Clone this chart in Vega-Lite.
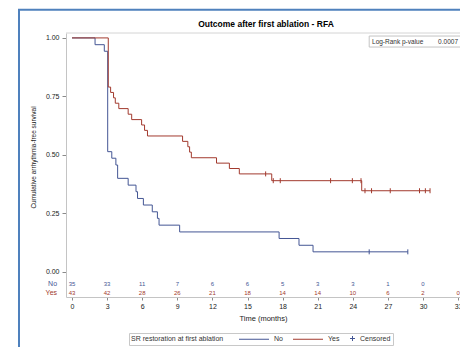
{
  "$schema": "https://vega.github.io/schema/vega-lite/v6.json",
  "autosize": "none",
  "width": 394,
  "height": 264,
  "padding": {"left": 66, "top": 33, "right": 0, "bottom": 50},
  "config": {
    "font": "Liberation Sans",
    "view": {"stroke": null},
    "axis": {"grid": false, "labelColor": "#222", "titleColor": "#222", "domainColor": "#c4c4c4", "tickColor": "#8a8a8a", "titleFontWeight": "normal"},
    "axisX": {"labelOverlap": false, "labelBound": false, "labelFlush": false, "labelFontSize": 7, "titleFontSize": 7.5, "tickSize": 3, "labelPadding": 2, "titlePadding": 5},
    "axisY": {"labelOverlap": false, "labelFontSize": 7, "titleFontSize": 6.5, "tickSize": 4, "labelPadding": 3, "titlePadding": 9}
  },
  "datasets": {
    "km": [
      {"g": "No", "t": 0, "s": 1},
      {"g": "No", "t": 1.97, "s": 0.971},
      {"g": "No", "t": 2.76, "s": 0.943},
      {"g": "No", "t": 3.05, "s": 0.514},
      {"g": "No", "t": 3.4, "s": 0.486},
      {"g": "No", "t": 3.75, "s": 0.457},
      {"g": "No", "t": 3.9, "s": 0.4},
      {"g": "No", "t": 4.8, "s": 0.371},
      {"g": "No", "t": 5.47, "s": 0.343},
      {"g": "No", "t": 5.6, "s": 0.314},
      {"g": "No", "t": 6.1, "s": 0.286},
      {"g": "No", "t": 6.86, "s": 0.257},
      {"g": "No", "t": 7.3, "s": 0.229},
      {"g": "No", "t": 7.44, "s": 0.2},
      {"g": "No", "t": 9.2, "s": 0.171},
      {"g": "No", "t": 17.7, "s": 0.143},
      {"g": "No", "t": 19.4, "s": 0.114},
      {"g": "No", "t": 20.6, "s": 0.086},
      {"g": "No", "t": 28.7, "s": 0.086},
      {"g": "Yes", "t": 0, "s": 1},
      {"g": "Yes", "t": 3.1, "s": 0.79},
      {"g": "Yes", "t": 3.3, "s": 0.767},
      {"g": "Yes", "t": 3.55, "s": 0.744},
      {"g": "Yes", "t": 3.7, "s": 0.721},
      {"g": "Yes", "t": 4.0, "s": 0.698},
      {"g": "Yes", "t": 4.8, "s": 0.674},
      {"g": "Yes", "t": 5.1, "s": 0.651},
      {"g": "Yes", "t": 5.95, "s": 0.628},
      {"g": "Yes", "t": 6.2, "s": 0.605},
      {"g": "Yes", "t": 6.45, "s": 0.581},
      {"g": "Yes", "t": 9.45, "s": 0.558},
      {"g": "Yes", "t": 9.9, "s": 0.535},
      {"g": "Yes", "t": 10.05, "s": 0.512},
      {"g": "Yes", "t": 10.2, "s": 0.488},
      {"g": "Yes", "t": 12.35, "s": 0.465},
      {"g": "Yes", "t": 13.45, "s": 0.442},
      {"g": "Yes", "t": 14.3, "s": 0.419},
      {"g": "Yes", "t": 17.07, "s": 0.39},
      {"g": "Yes", "t": 24.76, "s": 0.347},
      {"g": "Yes", "t": 30.6, "s": 0.347}
    ],
    "cens": [
      {"g": "Yes", "t": 16.55, "s": 0.419},
      {"g": "Yes", "t": 17.2, "s": 0.39},
      {"g": "Yes", "t": 17.8, "s": 0.39},
      {"g": "Yes", "t": 22.1, "s": 0.39},
      {"g": "Yes", "t": 23.96, "s": 0.39},
      {"g": "Yes", "t": 24.7, "s": 0.39},
      {"g": "Yes", "t": 25.04, "s": 0.347},
      {"g": "Yes", "t": 25.6, "s": 0.347},
      {"g": "Yes", "t": 27.2, "s": 0.347},
      {"g": "Yes", "t": 29.7, "s": 0.347},
      {"g": "Yes", "t": 30.2, "s": 0.347},
      {"g": "Yes", "t": 30.6, "s": 0.347},
      {"g": "No", "t": 25.4, "s": 0.086},
      {"g": "No", "t": 28.7, "s": 0.086}
    ],
    "risk": [
      {"g": "No", "t": 0, "n": 35},
      {"g": "No", "t": 3, "n": 33},
      {"g": "No", "t": 6, "n": 11},
      {"g": "No", "t": 9, "n": 7},
      {"g": "No", "t": 12, "n": 6},
      {"g": "No", "t": 15, "n": 6},
      {"g": "No", "t": 18, "n": 5},
      {"g": "No", "t": 21, "n": 3},
      {"g": "No", "t": 24, "n": 3},
      {"g": "No", "t": 27, "n": 1},
      {"g": "No", "t": 30, "n": 0},
      {"g": "Yes", "t": 0, "n": 43},
      {"g": "Yes", "t": 3, "n": 42},
      {"g": "Yes", "t": 6, "n": 28},
      {"g": "Yes", "t": 9, "n": 26},
      {"g": "Yes", "t": 12, "n": 21},
      {"g": "Yes", "t": 15, "n": 18},
      {"g": "Yes", "t": 18, "n": 14},
      {"g": "Yes", "t": 21, "n": 14},
      {"g": "Yes", "t": 24, "n": 10},
      {"g": "Yes", "t": 27, "n": 6},
      {"g": "Yes", "t": 30, "n": 2},
      {"g": "Yes", "t": 33, "n": 0}
    ],
    "labels": [{"g": "No"}, {"g": "Yes"}],
    "lr": [{"label": "Log-Rank p-value", "p": "0.0007"}],
    "ttl": [{"text": "Outcome after first ablation - RFA"}],
    "one": [{}]
  },
  "layer": [
    {
      "data": {"name": "km"},
      "mark": {"type": "line", "interpolate": "step-after", "strokeWidth": 1},
      "encoding": {
        "x": {"field": "t", "type": "quantitative", "scale": {"domain": [-0.513, 33.16], "nice": false, "zero": false},
          "axis": {"values": [0, 3, 6, 9, 12, 15, 18, 21, 24, 27, 30, 33], "title": "Time (months)"}},
        "y": {"field": "s", "type": "quantitative", "scale": {"domain": [-0.107, 1.021], "nice": false, "zero": false},
          "axis": {"values": [0, 0.25, 0.5, 0.75, 1], "format": ".2f", "title": "Cumulative arrhythmia-free survival", "titleY": 124}},
        "color": {"field": "g", "type": "nominal",
          "scale": {"domain": ["No", "Yes", "Censored"], "range": ["#445694", "#a23a2e", "#445694"]},
          "legend": {
            "title": "SR restoration at first ablation",
            "orient": "none", "legendX": 63, "legendY": 300,
            "direction": "horizontal", "titleOrient": "left",
            "titleFontSize": 7, "titleFontWeight": "normal", "titleColor": "#333", "titlePadding": 15,
            "labelFontSize": 7, "labelColor": "#333",
            "symbolType": "stroke", "symbolSize": 25, "symbolStrokeWidth": 1,
            "columnPadding": 8, "strokeColor": "#c8c8c8", "padding": 2,
            "encode": {
              "symbols": {"update": {
                "shape": {"signal": "datum.value === 'Censored' ? 'M-1,0H1M0,-1V1' : 'M-6,0H6'"},
                "x": {"signal": "datum.value === 'Censored' ? 2.5 : 15"}
              }},
              "labels": {"update": {
                "x": {"signal": "datum.value === 'Censored' ? 10 : 35"}
              }}
            }
          }}
      }
    },
    {
      "data": {"name": "one"},
      "mark": {"type": "rect", "fill": "transparent", "stroke": "#4f81bd", "strokeWidth": 2},
      "encoding": {
        "x": {"datum": -4.53, "type": "quantitative", "scale": {"domain": [-0.513, 33.16], "nice": false, "zero": false},
          "axis": {"values": [0, 3, 6, 9, 12, 15, 18, 21, 24, 27, 30, 33], "title": "Time (months)"}},
        "x2": {"datum": 45},
        "y": {"datum": 1.12, "type": "quantitative", "scale": {"domain": [-0.107, 1.021], "nice": false, "zero": false},
          "axis": {"values": [0, 0.25, 0.5, 0.75, 1], "format": ".2f", "title": "Cumulative arrhythmia-free survival", "titleY": 124}},
        "y2": {"datum": -0.6}
      }
    },
    {
      "data": {"name": "one"},
      "mark": {"type": "rule", "color": "#d4d4d4", "strokeWidth": 1},
      "encoding": {
        "y": {"datum": 1.021, "type": "quantitative", "scale": {"domain": [-0.107, 1.021], "nice": false, "zero": false},
          "axis": {"values": [0, 0.25, 0.5, 0.75, 1], "format": ".2f", "title": "Cumulative arrhythmia-free survival", "titleY": 124}}
      }
    },
    {
      "data": {"name": "one"},
      "mark": {"type": "rect", "fill": "white", "stroke": "#c4c4c4", "strokeWidth": 1},
      "encoding": {
        "x": {"datum": 25.4, "type": "quantitative", "scale": {"domain": [-0.513, 33.16], "nice": false, "zero": false},
          "axis": {"values": [0, 3, 6, 9, 12, 15, 18, 21, 24, 27, 30, 33], "title": "Time (months)"}},
        "x2": {"datum": 40},
        "y": {"datum": 1.008, "type": "quantitative", "scale": {"domain": [-0.107, 1.021], "nice": false, "zero": false},
          "axis": {"values": [0, 0.25, 0.5, 0.75, 1], "format": ".2f", "title": "Cumulative arrhythmia-free survival", "titleY": 124}},
        "y2": {"datum": 0.961}
      }
    },
    {
      "data": {"name": "lr"},
      "mark": {"type": "text", "align": "left", "baseline": "middle", "fontSize": 6.5, "color": "#333"},
      "encoding": {
        "x": {"datum": 25.64, "type": "quantitative", "scale": {"domain": [-0.513, 33.16], "nice": false, "zero": false},
          "axis": {"values": [0, 3, 6, 9, 12, 15, 18, 21, 24, 27, 30, 33], "title": "Time (months)"}},
        "y": {"datum": 0.984, "type": "quantitative", "scale": {"domain": [-0.107, 1.021], "nice": false, "zero": false},
          "axis": {"values": [0, 0.25, 0.5, 0.75, 1], "format": ".2f", "title": "Cumulative arrhythmia-free survival", "titleY": 124}},
        "text": {"field": "label"}
      }
    },
    {
      "data": {"name": "lr"},
      "mark": {"type": "text", "align": "right", "baseline": "middle", "fontSize": 6.5, "color": "#333"},
      "encoding": {
        "x": {"datum": 32.99, "type": "quantitative", "scale": {"domain": [-0.513, 33.16], "nice": false, "zero": false},
          "axis": {"values": [0, 3, 6, 9, 12, 15, 18, 21, 24, 27, 30, 33], "title": "Time (months)"}},
        "y": {"datum": 0.984, "type": "quantitative", "scale": {"domain": [-0.107, 1.021], "nice": false, "zero": false},
          "axis": {"values": [0, 0.25, 0.5, 0.75, 1], "format": ".2f", "title": "Cumulative arrhythmia-free survival", "titleY": 124}},
        "text": {"field": "p"}
      }
    },
    {
      "data": {"name": "ttl"},
      "mark": {"type": "text", "align": "center", "baseline": "middle", "fontSize": 8.5, "fontWeight": "bold", "color": "#000"},
      "encoding": {
        "x": {"datum": 16.58, "type": "quantitative", "scale": {"domain": [-0.513, 33.16], "nice": false, "zero": false},
          "axis": {"values": [0, 3, 6, 9, 12, 15, 18, 21, 24, 27, 30, 33], "title": "Time (months)"}},
        "y": {"datum": 1.06, "type": "quantitative", "scale": {"domain": [-0.107, 1.021], "nice": false, "zero": false},
          "axis": {"values": [0, 0.25, 0.5, 0.75, 1], "format": ".2f", "title": "Cumulative arrhythmia-free survival", "titleY": 124}},
        "text": {"field": "text"}
      }
    },
    {
      "data": {"name": "cens"},
      "mark": {"type": "point", "shape": "M0,-1V1", "filled": false, "size": 25, "strokeWidth": 1, "opacity": 1},
      "encoding": {
        "x": {"field": "t", "type": "quantitative", "scale": {"domain": [-0.513, 33.16], "nice": false, "zero": false},
          "axis": {"values": [0, 3, 6, 9, 12, 15, 18, 21, 24, 27, 30, 33], "title": "Time (months)"}},
        "y": {"field": "s", "type": "quantitative", "scale": {"domain": [-0.107, 1.021], "nice": false, "zero": false},
          "axis": {"values": [0, 0.25, 0.5, 0.75, 1], "format": ".2f", "title": "Cumulative arrhythmia-free survival", "titleY": 124}},
        "color": {"field": "g", "type": "nominal", "legend": null}
      }
    },
    {
      "data": {"name": "risk"},
      "transform": [{"filter": "datum.g === 'No'"}],
      "mark": {"type": "text", "align": "center", "baseline": "middle", "fontSize": 6},
      "encoding": {
        "x": {"field": "t", "type": "quantitative", "scale": {"domain": [-0.513, 33.16], "nice": false, "zero": false},
          "axis": {"values": [0, 3, 6, 9, 12, 15, 18, 21, 24, 27, 30, 33], "title": "Time (months)"}},
        "y": {"datum": -0.051, "type": "quantitative", "scale": {"domain": [-0.107, 1.021], "nice": false, "zero": false},
          "axis": {"values": [0, 0.25, 0.5, 0.75, 1], "format": ".2f", "title": "Cumulative arrhythmia-free survival", "titleY": 124}},
        "text": {"field": "n"},
        "color": {"field": "g", "type": "nominal", "legend": null}
      }
    },
    {
      "data": {"name": "risk"},
      "transform": [{"filter": "datum.g === 'Yes'"}],
      "mark": {"type": "text", "align": "center", "baseline": "middle", "fontSize": 6},
      "encoding": {
        "x": {"field": "t", "type": "quantitative", "scale": {"domain": [-0.513, 33.16], "nice": false, "zero": false},
          "axis": {"values": [0, 3, 6, 9, 12, 15, 18, 21, 24, 27, 30, 33], "title": "Time (months)"}},
        "y": {"datum": -0.09, "type": "quantitative", "scale": {"domain": [-0.107, 1.021], "nice": false, "zero": false},
          "axis": {"values": [0, 0.25, 0.5, 0.75, 1], "format": ".2f", "title": "Cumulative arrhythmia-free survival", "titleY": 124}},
        "text": {"field": "n"},
        "color": {"field": "g", "type": "nominal", "legend": null}
      }
    },
    {
      "data": {"name": "labels"},
      "transform": [{"filter": "datum.g === 'No'"}],
      "mark": {"type": "text", "align": "right", "baseline": "middle", "fontSize": 7},
      "encoding": {
        "x": {"datum": -1.28, "type": "quantitative", "scale": {"domain": [-0.513, 33.16], "nice": false, "zero": false},
          "axis": {"values": [0, 3, 6, 9, 12, 15, 18, 21, 24, 27, 30, 33], "title": "Time (months)"}},
        "y": {"datum": -0.051, "type": "quantitative", "scale": {"domain": [-0.107, 1.021], "nice": false, "zero": false},
          "axis": {"values": [0, 0.25, 0.5, 0.75, 1], "format": ".2f", "title": "Cumulative arrhythmia-free survival", "titleY": 124}},
        "text": {"field": "g"},
        "color": {"field": "g", "type": "nominal", "legend": null}
      }
    },
    {
      "data": {"name": "labels"},
      "transform": [{"filter": "datum.g === 'Yes'"}],
      "mark": {"type": "text", "align": "right", "baseline": "middle", "fontSize": 7},
      "encoding": {
        "x": {"datum": -1.28, "type": "quantitative", "scale": {"domain": [-0.513, 33.16], "nice": false, "zero": false},
          "axis": {"values": [0, 3, 6, 9, 12, 15, 18, 21, 24, 27, 30, 33], "title": "Time (months)"}},
        "y": {"datum": -0.09, "type": "quantitative", "scale": {"domain": [-0.107, 1.021], "nice": false, "zero": false},
          "axis": {"values": [0, 0.25, 0.5, 0.75, 1], "format": ".2f", "title": "Cumulative arrhythmia-free survival", "titleY": 124}},
        "text": {"field": "g"},
        "color": {"field": "g", "type": "nominal", "legend": null}
      }
    }
  ]
}
